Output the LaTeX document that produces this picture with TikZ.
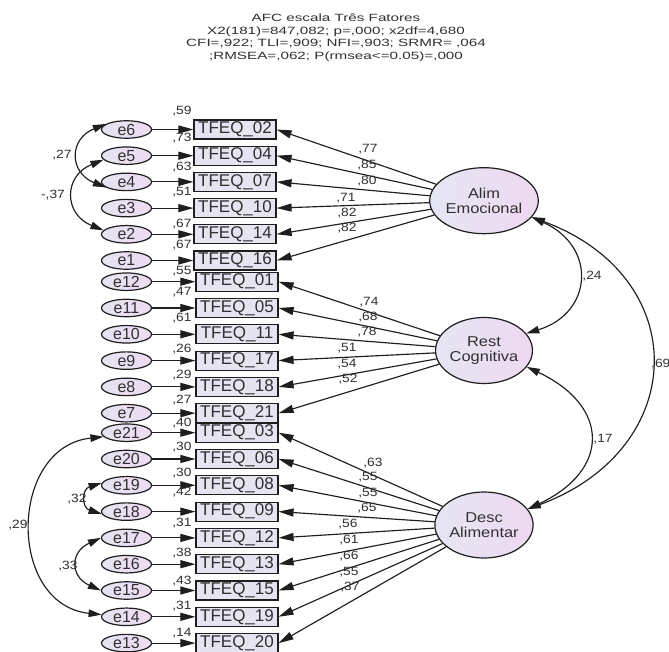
\documentclass[tikz,border=0pt]{standalone}
\usepackage{fontspec}
\setmainfont{Liberation Sans}
\newfontfamily\wfont[FakeStretch=1.15]{Liberation Sans}
\newfontfamily\tfont[FakeStretch=1.45]{Liberation Sans}
\usetikzlibrary{shapes.geometric,arrows.meta}
\definecolor{eleft}{HTML}{E6E3F2}
\definecolor{eright}{HTML}{EDDCF2}
\definecolor{bfill}{HTML}{E5E4F0}
\definecolor{fleft}{HTML}{E5E6F3}
\definecolor{fright}{HTML}{EED8F1}
\definecolor{ink}{HTML}{1E1E1E}
\definecolor{txt}{HTML}{303030}
\begin{document}
\begin{tikzpicture}[x=1pt,y=-1pt,
  every node/.style={inner sep=0pt, text=txt},
  ttl/.style={font=\tfont\fontsize{10.5}{12.6}\selectfont},
  obs/.style={draw=ink, line width=1.2pt, fill=bfill, minimum width=82pt, minimum height=19pt, font=\fontsize{17}{17}\selectfont},
  err/.style={draw=ink, ellipse, line width=1.2pt, left color=eleft, right color=eright, minimum width=50pt, minimum height=17.5pt, font=\fontsize{16}{16}\selectfont},
  lat/.style={draw=ink, ellipse, line width=1.2pt, left color=fleft, right color=fright, minimum width=95pt, minimum height=66pt, align=center, font=\wfont\fontsize{14.3}{15}\selectfont},
  num/.style={font=\wfont\fontsize{12}{12}\selectfont},
  pth/.style={draw=ink, line width=1.15pt, -{Triangle[length=15pt,width=8pt]}},
  cov/.style={draw=ink, line width=1.15pt, {Triangle[length=13pt,width=7.5pt]}-{Triangle[length=13pt,width=7.5pt]}},
]
\fill[white] (0,0) rectangle (669,652);
\useasboundingbox (0,0) rectangle (669,652);

% title
\node[ttl, anchor=base] (t1) at (336,22) {AFC escala Três Fatores};
\node[ttl, anchor=base] (t2) at (336,34.5) {X2(181)=847,082; p=,000; x2df=4,680};
\node[ttl, anchor=base] (t3) at (336,47) {CFI=,922; TLI=,909; NFI=,903; SRMR= ,064};
\node[ttl, anchor=base] (t4) at (336,59.5) {;RMSEA=,062; P(rmsea<=0.05)=,000};

% latent factors
\node[lat] (A) at (484,200.7) {Alim\\Emocional};
\node[lat] (R) at (484,350.5) {Rest\\Cognitiva};
\node[lat] (D) at (484,525) {Desc\\Alimentar};

% Alim Emocional indicators
\foreach \n/\y/\e/\sq/\sqy/\ld/\ldx/\ldy in {
  02/129.5/6/59/111/77/368/149,
  04/155.7/5/73/138/85/367/165,
  07/181.9/4/63/167/80/367/181,
  10/208.1/3/51/192/71/346/198,
  14/234.3/2/67/224/82/347/213,
  16/260.5/1/67/245/82/347/228}{
  \node[obs] (o\n) at (235,\y) {TFEQ\_\n};
  \node[err] (e\e) at (126.5,\y) {e\e};
  \draw[pth] (e\e.east) -- (o\n.west);
  \draw[pth] (A) -- (o\n.east);
  \node[num] (s\e) at (182,\sqy) {,\sq};
  \node[num] (l\n) at (\ldx,\ldy) {,\ld};
}

% Rest Cognitiva indicators
\foreach \n/\y/\e/\sq/\sqy/\ld/\ldx/\ldy in {
  01/281.7/12/55/271/74/369/302,
  05/308.0/11/47/292/68/368/317,
  11/334.3/10/61/318/78/367/332,
  17/360.6/9/26/349/51/347/348,
  18/386.9/8/29/375/54/347/364,
  21/413.2/7/27/400/52/348/379}{
  \node[obs] (o\n) at (237,\y) {TFEQ\_\n};
  \node[err] (e\e) at (126.5,\y) {e\e};
  \draw[pth] (e\e.east) -- (o\n.west);
  \draw[pth] (R) -- (o\n.east);
  \node[num] (s\e) at (182,\sqy) {,\sq};
  \node[num] (l\n) at (\ldx,\ldy) {,\ld};
}

% Desc Alimentar indicators
\foreach \n/\y/\e/\sq/\sqy/\ld/\ldx/\ldy in {
  03/432.7/21/40/423/63/373/463,
  06/459.0/20/30/447/55/368/477,
  08/485.3/19/30/473/55/368/493,
  09/511.6/18/42/492/65/367/508,
  12/537.9/17/31/523/56/348/524,
  13/564.2/16/38/553/61/349/540,
  15/590.5/15/43/581/66/349/556,
  19/616.8/14/31/606/55/349/572,
  20/643.1/13/14/633/37/350/587}{
  \node[obs] (o\n) at (237,\y) {TFEQ\_\n};
  \node[err] (e\e) at (126.5,\y) {e\e};
  \draw[pth] (e\e.east) -- (o\n.west);
  \draw[pth] (D) -- (o\n.east);
  \node[num] (s\e) at (182,\sqy) {,\sq};
  \node[num] (l\n) at (\ldx,\ldy) {,\ld};
}

% error covariances
\draw[cov] (e6.165) .. controls +(-37,15) and +(-37,-15) .. (e4.195);
\node[num] (c27) at (62,155) {,27};
\draw[cov] (e5.190) .. controls +(-40,16) and +(-40,-16) .. (e2.170);
\node[num] (c37) at (53,195) {-,37};
\draw[cov] (e19.175) .. controls +(-20,6) and +(-20,-6) .. (e18.185);
\node[num] (c32) at (77,499) {,32};
\draw[cov] (e17.180) .. controls +(-31,14) and +(-31,-14) .. (e15.180);
\node[num] (c33) at (68,566) {,33};
\draw[cov] (e21.190) .. controls +(-95,10) and +(-95,-10) .. (e14.175);
\node[num] (c29) at (18,525) {,29};

% factor covariances
\draw[cov] (A.-19) .. controls +(66,30) and +(66,-20) .. (R.22);
\node[num] (f24) at (592,276) {,24};
\draw[cov] (R.-21) .. controls +(83,39) and +(83,-39) .. (D.20);
\node[num] (f17) at (603,439) {,17};
\draw[cov] (A.-19) .. controls +(162,60) and +(162,-60) .. (D.20);
\node[num, anchor=west] (f69) at (651,364) {,69};
\end{tikzpicture}
\end{document}
